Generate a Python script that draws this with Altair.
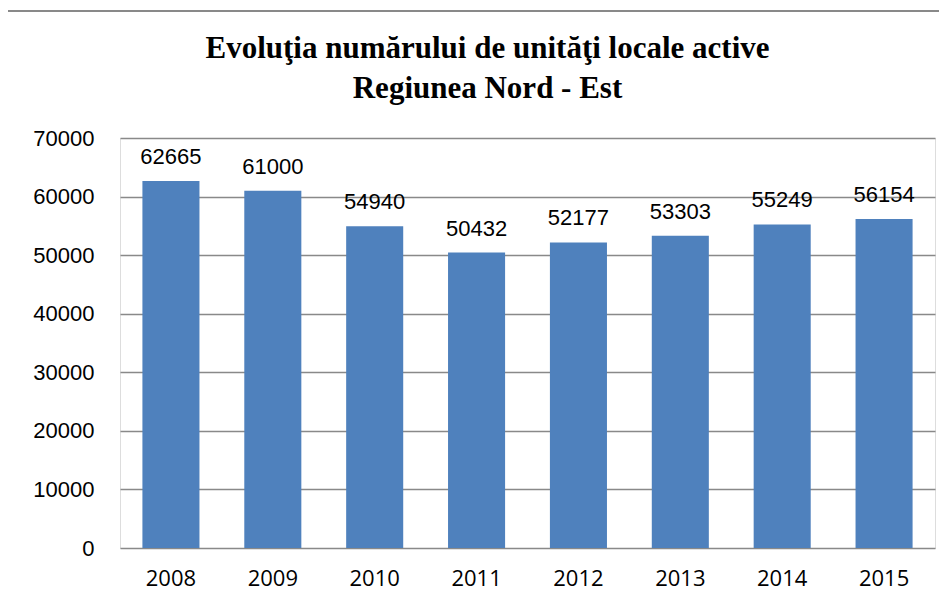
import altair as alt
import pandas as pd

years = ["2008", "2009", "2010", "2011", "2012", "2013", "2014", "2015"]
values = [62665, 61000, 54940, 50432, 52177, 53303, 55249, 56154]
y_ticks = [0, 10000, 20000, 30000, 40000, 50000, 60000, 70000]
title_lines = ["Evoluţia numărului de unităţi locale active", "Regiunea Nord - Est"]

df = pd.DataFrame({"An": years, "Valoare": values})

W, H = 815, 410

x = alt.X("An:N", sort=years, title=None,
          scale=alt.Scale(paddingInner=0.44, paddingOuter=0.22),
          axis=alt.Axis(labelAngle=0, labelFont="Open Sans", labelFontSize=22,
                        labelColor="#000000", labelPadding=20, ticks=False,
                        domain=False, grid=False))
y = alt.Y("Valoare:Q", title=None,
          scale=alt.Scale(domain=[0, 70000]),
          axis=alt.Axis(values=y_ticks, format="d", labelFont="Liberation Sans",
                        labelFontSize=22, labelColor="#000000", labelPadding=26,
                        ticks=False, domain=False, grid=True, gridColor="#898989",
                        gridWidth=1.6))

bars = alt.Chart(df).mark_bar(color="#4F81BD").encode(x=x, y=y)
labels = alt.Chart(df).mark_text(baseline="bottom", dy=-12, font="Liberation Sans",
                                 fontSize=22, color="#000000").encode(
    x=alt.X("An:N", sort=years), y="Valoare:Q", text="Valoare:Q")

frame = alt.Chart(df).mark_rect(fill=None, stroke="#898989", strokeWidth=2).encode(
    x=alt.value(-115), x2=alt.value(W + 30), y=alt.value(-127), y2=alt.value(H + 60))

chart = alt.layer(frame, bars, labels).properties(
    width=W, height=H,
    title=alt.TitleParams(text=title_lines, font="Liberation Serif", fontSize=31,
                          fontWeight="bold", color="#000000", lineHeight=40,
                          anchor="middle", dx=-40, offset=-95),
    padding={"left": 112, "top": 130, "right": 4, "bottom": 50},
    autosize=alt.AutoSizeParams(type="none"),
).configure_view(stroke=None).configure(background="#ffffff")

chart.save("out.html", embed_options={"renderer": "svg", "actions": False})
